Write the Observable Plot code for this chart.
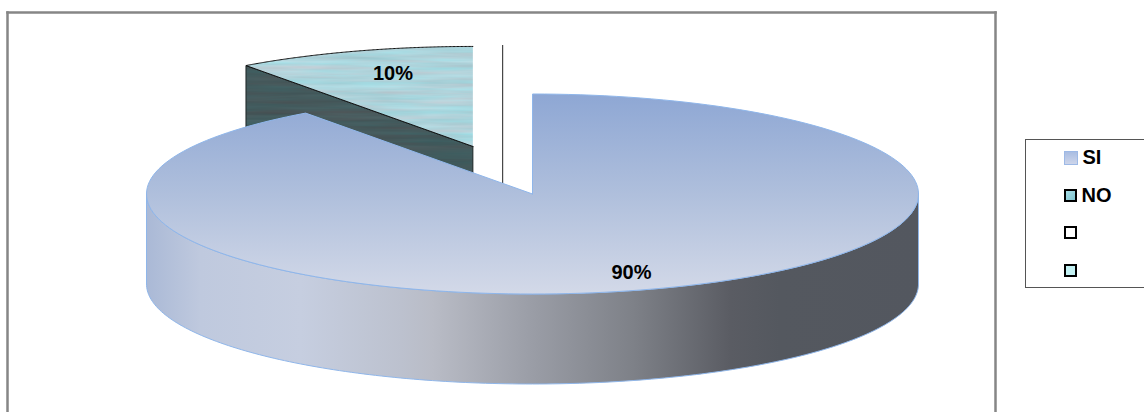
<!DOCTYPE html>
<html>
<head>
<meta charset="utf-8">
<script src="https://cdn.jsdelivr.net/npm/d3@7"></script>
<script src="https://cdn.jsdelivr.net/npm/@observablehq/plot@0.6"></script>
<style>
  html, body { margin: 0; padding: 0; background: #fff; }
  #chart { position: relative; width: 1144px; height: 412px; overflow: hidden; }
  #chart svg { position: absolute; left: 0; top: 0; }
  #legend {
    position: absolute; left: 1025px; top: 139px; width: 125px; height: 147px;
    border: 1.5px solid #555; box-sizing: content-box; background: #fff;
    font: bold 20px "Liberation Sans", Arial, sans-serif; color: #000;
  }
  .entry { position: absolute; left: 37.5px; display: flex; align-items: center; height: 14px; }
  .swatch { width: 9px; height: 9px; border: 2.5px solid #000; margin-right: 5px; flex: none; }
</style>
</head>
<body>
<div id="chart"></div>
<script>
// Survey answers and their shares
const categories = ["SI", "NO"];
const shares = [90, 10];
const shareLabels = ["90%", "10%"];
// The legend keeps two further, unnamed entries
const legendNames = ["SI", "NO", "", ""];
const legendFills = ["linear-gradient(#a9bde2,#cdd5ea)", "linear-gradient(135deg,#a7dde6,#7fc4cf)", "#ffffff", "#c3f1f3"];

// Pie layout, in units of the pie radius
const radiusPx = 386;
const tilt = 100 / radiusPx;
const depth = 90 / radiusPx;
const explosion = [0, 0.5];
const labelRadius = [0.83, 0.77];
const labelShift = [0, 12 / radiusPx];
const strayTop = 148.5 / radiusPx;
const strayBottom = 10.5 / radiusPx;

const TAU = Math.PI * 2;
const total = d3.sum(shares);

// Slices run clockwise from twelve o'clock
let running = 0;
const slices = categories.map((name, i) => {
  const a0 = running / total * TAU;
  running += shares[i];
  const a1 = running / total * TAU;
  const mid = (a0 + a1) / 2;
  const cx = explosion[i] * Math.sin(mid);
  const cy = explosion[i] * Math.cos(mid) * tilt;
  return {name, a0, a1, mid, cx, cy, share: shares[i], label: shareLabels[i], i};
});

// Projects a rim point of a slice onto the drawing plane
const rim = (s, a, drop = 0) => ({x: s.cx + Math.sin(a), y: s.cy + Math.cos(a) * tilt - drop});
const arc = (s, a0, a1, drop = 0) => d3.range(0, 181).map((k) => rim(s, a0 + (a1 - a0) * k / 180, drop));
const apex = (s, drop = 0) => ({x: s.cx, y: s.cy - drop});

const topFace = (s) => [apex(s), ...arc(s, s.a0, s.a1), apex(s)];
// Open outline of a slice top: one radius and the rim
const topEdge = (s) => [apex(s), ...arc(s, s.a0, s.a1)];
// Front wall of the large slice: the lower half of the rim, swept downwards
const frontWall = (s) => {
  const from = Math.max(s.a0, Math.PI / 2);
  const to = Math.min(s.a1, Math.PI * 1.5);
  return [...arc(s, from, to), ...arc(s, to, from, depth), rim(s, from)];
};
// Inner cut wall of the small slice
const cutWall = (s) => {
  const a = apex(s);
  const edge = rim(s, s.a0);
  return [a, edge, {x: edge.x, y: edge.y - depth}, {x: a.x, y: a.y - depth}, a];
};

const [si, no] = slices;
const strayX = no.cx / 2;

// Builds one noise texture, clipped to the shape it is applied on
const texture = (d, id, freq, seed, matrix) => {
  const f = d.append("filter").attr("id", id).attr("x", 0).attr("y", 0).attr("width", 1).attr("height", 1)
    .attr("color-interpolation-filters", "sRGB");
  f.append("feTurbulence").attr("type", "fractalNoise").attr("baseFrequency", freq).attr("numOctaves", 3).attr("seed", seed).attr("result", "n");
  f.append("feColorMatrix").attr("in", "n").attr("type", "matrix").attr("values", matrix).attr("result", "c");
  f.append("feComposite").attr("in", "c").attr("in2", "SourceAlpha").attr("operator", "in");
};

const defs = () => {
  const d = d3.create("svg:defs");
  const topGrad = d.append("linearGradient").attr("id", "siTop").attr("x1", 0).attr("y1", 0).attr("x2", 0).attr("y2", 1);
  [[0, "#8ea7d4"], [0.5, "#afbfdc"], [1, "#d3d9e8"]].forEach(([o, c]) => topGrad.append("stop").attr("offset", o).attr("stop-color", c));
  const sideGrad = d.append("linearGradient").attr("id", "siSide").attr("x1", 0).attr("y1", 0).attr("x2", 1).attr("y2", 0);
  [[0, "#aab9d6"], [0.07, "#bfc9de"], [0.2, "#c6cee0"], [0.33, "#bcc1ce"], [0.37, "#b9bcc6"], [0.5, "#9a9da6"], [0.63, "#7e8188"], [0.757, "#5a5c63"], [0.82, "#54585f"], [1, "#53575f"]]
    .forEach(([o, c]) => sideGrad.append("stop").attr("offset", o).attr("stop-color", c));
  // Rippled water on the small slice, brushed slate on its wall
  texture(d, "water", "0.012 0.2", 7, "0.2 0 0 0 0.58  0 0.14 0 0 0.76  0 0.14 0 0 0.79  0 0 0 0 1");
  texture(d, "slate", "0.01 0.2", 3, "0.1 0 0 0 0.22  0 0.1 0 0 0.30  0 0.1 0 0 0.31  0 0 0 0 1");
  return d.node();
};

// Render hook that puts a texture filter on a line mark
const withFilter = (id) => (i, s, v, d, c, next) => {
  const g = next(i, s, v, d, c);
  g.setAttribute("filter", `url(#${id})`);
  return g;
};

const frameStyle = {stroke: "#868686", strokeWidth: 2.5};

const chart = Plot.plot({
  width: 1144,
  height: 412,
  marginLeft: 7,
  marginRight: 149,
  marginTop: 12,
  marginBottom: 0,
  style: {background: "transparent", overflow: "visible"},
  x: {domain: [-525 / radiusPx, 463 / radiusPx], axis: null},
  y: {domain: [(193.5 - 412) / radiusPx, (193.5 - 12) / radiusPx], axis: null},
  marks: [
    defs,
    // The outer border runs off the lower edge of the page
    Plot.frame({anchor: "left", ...frameStyle}),
    Plot.frame({anchor: "top", ...frameStyle}),
    Plot.frame({anchor: "right", ...frameStyle}),
    // Small slice, pulled out behind the big one
    Plot.line(cutWall(no), {x: "x", y: "y", fill: "#000", stroke: "none", render: withFilter("slate")}),
    Plot.line(cutWall(no), {x: "x", y: "y", stroke: "#1c2426", strokeWidth: 1}),
    Plot.line(topFace(no), {x: "x", y: "y", fill: "#000", stroke: "none", render: withFilter("water")}),
    Plot.line(topEdge(no), {x: "x", y: "y", stroke: "#111", strokeWidth: 1}),
    // Hairline that stands in the gap between the slices
    Plot.ruleX([strayX], {y1: strayBottom, y2: strayTop, stroke: "#222", strokeWidth: 1}),
    // Large slice: wall first, then its top
    Plot.line(frontWall(si), {x: "x", y: "y", fill: "url(#siSide)", stroke: "#8fb6ea", strokeWidth: 1}),
    Plot.line(topFace(si), {x: "x", y: "y", fill: "url(#siTop)", stroke: "#8fb6ea", strokeWidth: 1}),
    Plot.text(slices, {
      x: (s) => s.cx + labelRadius[s.i] * Math.sin(s.mid) + labelShift[s.i],
      y: (s) => s.cy + labelRadius[s.i] * Math.cos(s.mid) * tilt,
      text: "label",
      fontFamily: "Liberation Sans, Arial, sans-serif",
      fontWeight: "bold",
      fontSize: 20,
      fill: "#000"
    })
  ]
});

const root = document.getElementById("chart");
root.appendChild(chart);

// Legend box on the right
const legend = document.createElement("div");
legend.id = "legend";
legendNames.forEach((name, i) => {
  const row = document.createElement("div");
  row.className = "entry";
  row.style.top = `${10.5 + i * 37.5}px`;
  const sw = document.createElement("span");
  sw.className = "swatch";
  sw.style.background = legendFills[i];
  if (i === 0) {
    sw.style.border = "1px solid #9db9e6";
    sw.style.width = "12px";
    sw.style.height = "12px";
  }
  row.appendChild(sw);
  row.appendChild(document.createTextNode(name));
  legend.appendChild(row);
});
root.appendChild(legend);
</script>
</body>
</html>
